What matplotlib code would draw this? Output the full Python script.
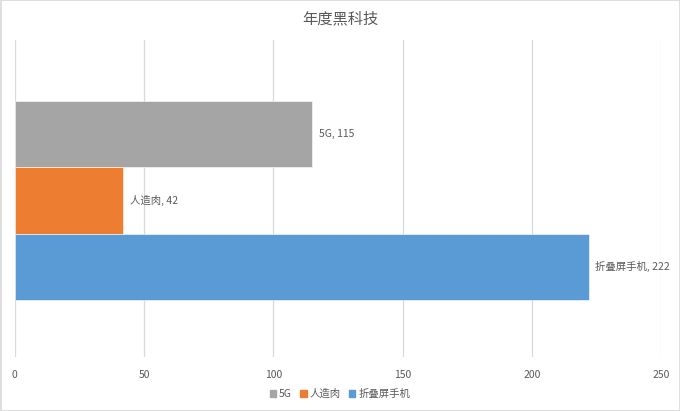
import numpy as np
import matplotlib.pyplot as plt
from matplotlib.patches import Rectangle

plt.rcParams['font.family'] = ['Noto Sans CJK SC', 'DejaVu Sans']

# data
series = ['5G', '人造肉', '折叠屏手机']
values = [115, 42, 222]
colors = ['#A5A5A5', '#ED7D31', '#5B9BD5']
x_ticks = [0, 50, 100, 150, 200, 250]

text_color = '#595959'
grid_color = '#D9D9D9'

fig = plt.figure(figsize=(6.8, 4.11), dpi=100)
ax = fig.add_axes([14.7/680, 1-357/411, 646.5/680, 317/411])

bar_h = 0.209
offsets = [bar_h, 0, -bar_h]
center = -0.0065

for i in range(len(series)):
    ax.barh(center + offsets[i], values[i], height=bar_h, color=colors[i],
            edgecolor='white', linewidth=0.4, label=series[i], zorder=3)
    ax.text(values[i] + 2.5, center + offsets[i], series[i] + ', ' + str(values[i]),
            va='center', ha='left', fontsize=7.5, color=text_color, zorder=4)

ax.set_xlim(0, 250)
ax.set_ylim(-0.5, 0.5)
ax.set_xticks(x_ticks)
ax.set_yticks([])
ax.xaxis.grid(True, color=grid_color, linewidth=0.9, zorder=0)
ax.tick_params(axis='x', length=0, labelsize=7.5, labelcolor=text_color, pad=9)
for s in ax.spines.values():
    s.set_visible(False)

fig.suptitle('年度黑科技', y=1-19/411, va='center', fontsize=11, color=text_color)

handles = [Rectangle((0, 0), 1, 1, color=c) for c in colors]
leg = fig.legend(handles, series, loc='center', bbox_to_anchor=(340/680, 1-394/411),
                 ncol=3, frameon=False, fontsize=7.5, handlelength=0.6, handleheight=0.6,
                 handletextpad=0.3, columnspacing=0.8, labelcolor=text_color)

# outer border
fig.patches.append(Rectangle((0.5/680, 0.5/411), 1-1/680, 1-1/411, transform=fig.transFigure,
                             fill=False, edgecolor='#D9D9D9', linewidth=1.2))

plt.savefig('out.png', dpi=100)
